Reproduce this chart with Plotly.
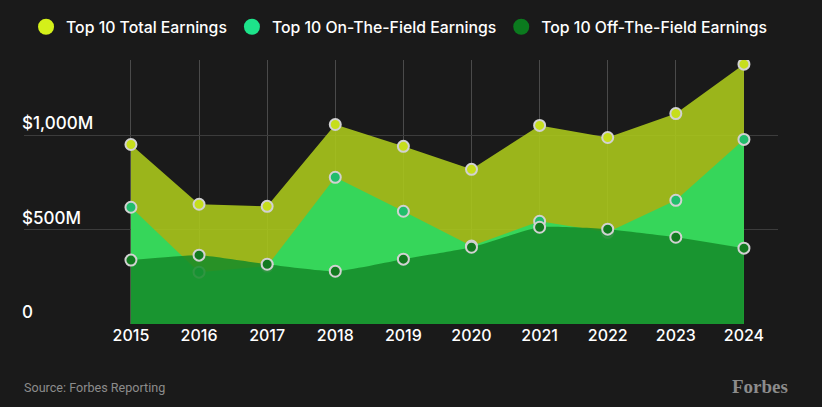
import plotly.graph_objects as go

years = [2015, 2016, 2017, 2018, 2019, 2020, 2021, 2022, 2023, 2024]
total = [952, 635, 624, 1058, 942, 820, 1053, 989, 1116, 1378]
on_field = [619, 275, 307, 778, 598, 413, 545, 486, 656, 979]
off_field = [339, 365, 317, 280, 344, 407, 513, 503, 460, 402]

ytick_vals = [0, 500, 1000]
ytick_text = ["0", "$500M", "$1,000M"]

series_names = ["Top 10 Total Earnings", "Top 10 On-The-Field Earnings", "Top 10 Off-The-Field Earnings"]
legend_colors = ["#d4f01a", "#1de38a", "#0b7a1e"]
fill_colors = ["rgba(170,199,28,0.9)", "#36d65a", "rgba(21,139,41,0.86)"]
marker_colors = ["#c6de1c", "#22bd6c", "#137a20"]
shapes_ = ["linear", "linear", "spline"]

BG = "#1a1a1a"
FONT = "Inter"

fig = go.Figure()
for name, vals, fc, mc, shp in zip(series_names, [total, on_field, off_field], fill_colors, marker_colors, shapes_):
    fig.add_trace(go.Scatter(
        x=years, y=vals, mode="lines+markers", fill="tozeroy", fillcolor=fc,
        line=dict(width=0, shape=shp, smoothing=0.5, color=fc),
        marker=dict(size=11, color=mc, line=dict(color="#d2d2d2", width=2)),
        showlegend=False, hoverinfo="skip", name=name,
    ))

for name, lc in zip(series_names, legend_colors):
    fig.add_trace(go.Scatter(
        x=[None], y=[None], mode="markers", name=name,
        marker=dict(size=16, color=lc, line=dict(width=0)),
        showlegend=True,
    ))

fig.update_layout(
    width=822, height=407,
    paper_bgcolor=BG, plot_bgcolor=BG,
    margin=dict(l=24, r=44, t=60, b=83, autoexpand=False),
    font=dict(family=FONT, color="#ffffff", size=16),
    legend=dict(
        orientation="h", x=0.0027, xanchor="left", y=1.125, yanchor="middle",
        xref="paper", yref="paper",
        font=dict(family=FONT, size=15.8, color="#ffffff", weight=500),
        bgcolor="rgba(0,0,0,0)", itemsizing="trace",
    ),
    xaxis=dict(
        range=[2013.43, 2024.5], tickvals=years, ticktext=[str(y) for y in years],
        showgrid=True, gridcolor="#4a4a4a", gridwidth=1, zeroline=False,
        showline=False, ticks="",
        tickfont=dict(family=FONT, size=16, color="#ffffff", weight=500),
    ),
    yaxis=dict(
        range=[0, 1400], tickvals=ytick_vals, ticktext=ytick_text,
        showgrid=True, gridcolor="#3c3c3c", gridwidth=1, zeroline=False,
        showline=False, ticks="", ticklabelposition="inside top", ticklabelstandoff=-5,
        tickfont=dict(family=FONT, size=17, color="#ffffff", weight=500),
    ),
    annotations=[
        dict(text="Source: Forbes Reporting", xref="paper", yref="paper", x=-0.002, y=-0.239,
             xanchor="left", yanchor="middle", showarrow=False,
             font=dict(family="Roboto", size=12.6, color="#8c8c8c")),
        dict(text="Forbes", xref="paper", yref="paper", x=1.016, y=-0.235,
             xanchor="right", yanchor="middle", showarrow=False,
             font=dict(family="Liberation Serif", size=19, color="#8c8c8c", weight="bold")),
    ],
)

fig.write_html(
    "out.html",
    config={"displayModeBar": False},
    post_script="document.body.style.margin='0';document.body.style.padding='0';"
                "document.body.style.background='#1a1a1a';",
)
